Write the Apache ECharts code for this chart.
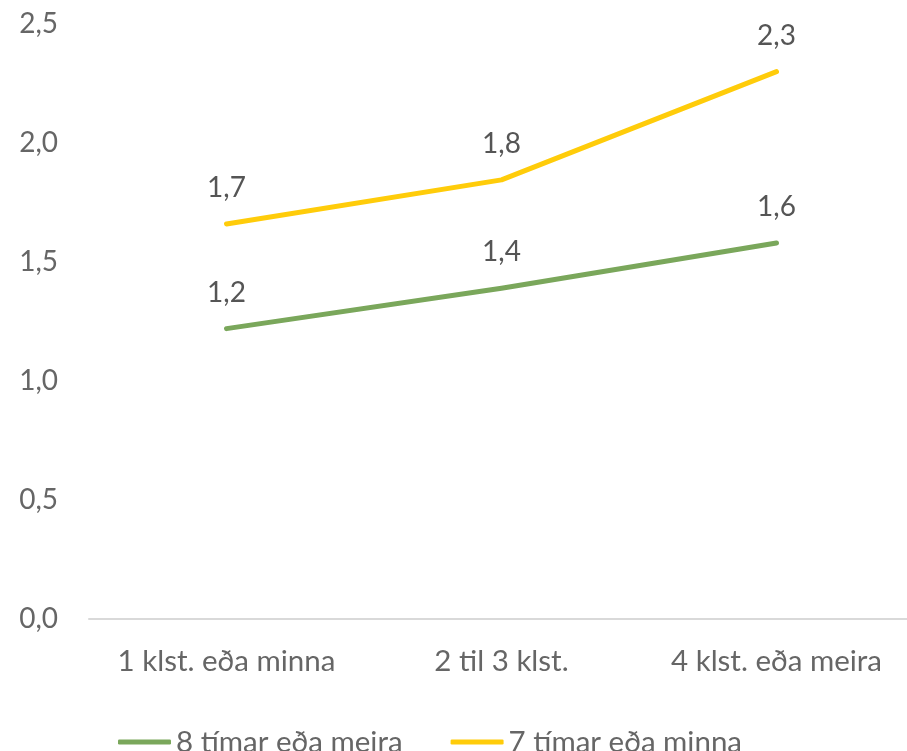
<!DOCTYPE html>
<html>
<head>
<meta charset="utf-8">
<script src="https://cdn.jsdelivr.net/npm/echarts@6/dist/echarts.min.js"></script>
<style>
  html, body { margin: 0; padding: 0; background: #ffffff; }
  #chart { width: 907px; height: 751px; }
</style>
</head>
<body>
<div id="chart"></div>
<script>
// Sleep duration groups vs. screen time per day
const categories = ['1 klst. eða minna', '2 til 3 klst.', '4 klst. eða meira'];
const seriesNames = ['8 tímar eða meira', '7 tímar eða minna'];
const longSleep = [1.22, 1.39, 1.58];
const shortSleep = [1.66, 1.845, 2.30];
const yTicks = [0, 0.5, 1.0, 1.5, 2.0, 2.5];

const FONT = 'Lato';
const fmt = v => Number(v).toFixed(1).replace('.', ',');

const chart = echarts.init(document.getElementById('chart'), null, { renderer: 'canvas' });

function lineSeries(name, data, color) {
  return {
    name: name,
    type: 'line',
    data: data,
    symbol: 'circle',
    symbolSize: 0,
    showSymbol: true,
    smooth: false,
    lineStyle: { color: color, width: 5, cap: 'round', join: 'round' },
    itemStyle: { color: color },
    label: {
      show: true,
      position: 'top',
      distance: 22,
      formatter: p => fmt(p.value),
      color: '#555555',
      fontFamily: FONT,
      fontSize: 28
    },
    emphasis: { disabled: true },
    animation: false
  };
}

chart.setOption({
  backgroundColor: '#ffffff',
  animation: false,
  grid: {
    left: 89, width: 825, top: 24, bottom: 132,
    containLabel: false,
    outerBoundsMode: 'none'
  },
  xAxis: {
    type: 'category',
    data: categories,
    boundaryGap: true,
    axisLine: { show: true, lineStyle: { color: '#d9d9d9', width: 2 } },
    axisTick: { show: false },
    axisLabel: { interval: 0, color: '#666666', fontFamily: FONT, fontSize: 29.5, margin: 27 },
    splitLine: { show: false }
  },
  yAxis: {
    type: 'value',
    min: yTicks[0],
    max: yTicks[yTicks.length - 1],
    interval: 0.5,
    axisLine: { show: false },
    axisTick: { show: false },
    splitLine: { show: false },
    axisLabel: { color: '#666666', fontFamily: FONT, fontSize: 28, margin: 31, formatter: v => fmt(v) }
  },
  legend: {
    data: seriesNames,
    left: 113,
    top: 722,
    itemWidth: 53,
    itemHeight: 5,
    itemGap: 48,
    icon: 'roundRect',
    textStyle: { color: '#666666', fontFamily: FONT, fontSize: 29.5, padding: [0, 0, 0, 0] }
  },
  series: [
    lineSeries(seriesNames[0], longSleep, '#7aa75b'),
    lineSeries(seriesNames[1], shortSleep, '#ffcc0a')
  ]
});
</script>
</body>
</html>
